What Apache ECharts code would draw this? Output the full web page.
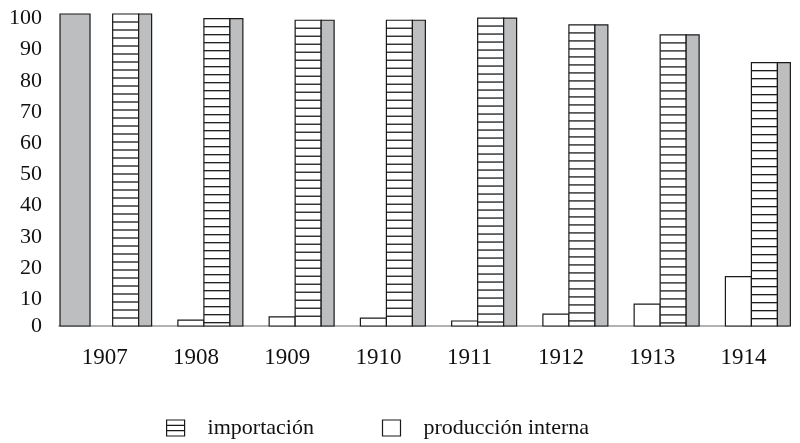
<!DOCTYPE html>
<html>
<head>
<meta charset="utf-8">
<script src="https://cdn.jsdelivr.net/npm/echarts@6/dist/echarts.min.js"></script>
<style>
  html, body { margin: 0; padding: 0; background: #fff; }
  #chart { width: 800px; height: 443px; }
</style>
</head>
<body>
<div id="chart"></div>
<script>
const YEARS = ["1907", "1908", "1909", "1910", "1911", "1912", "1913", "1914"];
const IMPORTACION = [100, 98.5, 98, 98, 98.7, 96.5, 93.3, 84.4];
const PRODUCCION = [0, 1.9, 2.9, 2.5, 1.6, 3.8, 7, 15.8];
const TOTAL_GRIS = [100, 98.5, 98, 98, 98.7, 96.5, 93.3, 84.4];
const BARRA_1907 = [100, null, null, null, null, null, null, null];
const Y_TICKS = [0, 10, 20, 30, 40, 50, 60, 70, 80, 90, 100];

const GRAY = "#bdbec0";
const INK = "#1a1a1a";
const FONT = "Liberation Serif";

const toPairs = (arr) => arr.map((v, i) => [i, v]).filter((d) => d[1] != null);

// bar placed at [from, to] fractions of the category band, measured from its center
function barRect(api, from, to) {
  const base = api.coord([api.value(0), 0]);
  const top = api.coord([api.value(0), api.value(1)]);
  const band = api.size([1, 0])[0];
  return {
    x: base[0] + band * from,
    y: top[1],
    width: band * (to - from),
    height: base[1] - top[1],
  };
}

function plainBar(from, to, fill) {
  return (params, api) => ({
    type: "rect",
    shape: barRect(api, from, to),
    style: { fill: fill, stroke: INK, lineWidth: 1.2 },
  });
}

function hatchBar(params, api) {
  const r = barRect(api, 0.088, 0.373);
  const children = [
    { type: "rect", shape: r, style: { fill: "#fff", stroke: INK, lineWidth: 1.2 } },
  ];
  for (let y = r.y + 8; y < r.y + r.height - 2; y += 8) {
    children.push({
      type: "line",
      shape: { x1: r.x, y1: y, x2: r.x + r.width, y2: y },
      style: { stroke: INK, lineWidth: 1.3 },
    });
  }
  return { type: "group", children };
}

const chart = echarts.init(document.getElementById("chart"));

chart.setOption({
  animation: false,
  grid: { left: 59, right: 11, top: 14, bottom: 117 },
  legend: {
    left: 166,
    top: 417,
    padding: 0,
    itemWidth: 18,
    itemHeight: 16,
    itemGap: 68,
    selectedMode: false,
    textStyle: { fontFamily: FONT, fontSize: 22, color: "#111", padding: [0, 0, 0, 18] },
    data: [
      {
        name: "importación",
        icon: "path://M0,0H18V16H0Z M0,5.33H18 M0,10.67H18",
        itemStyle: { color: "#fff", borderColor: INK, borderWidth: 1.2 },
      },
      {
        name: "producción interna",
        icon: "rect",
        itemStyle: { color: "#fff", borderColor: INK, borderWidth: 1.2 },
      },
    ],
  },
  xAxis: {
    type: "category",
    data: YEARS,
    axisLine: { lineStyle: { color: "#999", width: 1.5 } },
    axisTick: { show: false },
    axisLabel: { fontFamily: FONT, fontSize: 23, color: "#111", margin: 20 },
  },
  yAxis: {
    type: "value",
    min: 0,
    max: 100,
    interval: 10,
    axisLine: { show: false },
    axisTick: { show: false },
    splitLine: { show: false },
    axisLabel: {
      margin: 17,
      formatter: (v) => (!Y_TICKS.includes(v) ? "" : v === 0 ? "{z|0}" : "{t|" + v + "}"),
      rich: {
        t: { fontFamily: FONT, fontSize: 22, color: "#111", padding: [9, 0, 0, 0] },
        z: { fontFamily: FONT, fontSize: 22, color: "#111" },
      },
    },
  },
  series: [
    {
      name: "gris 1907",
      type: "custom",
      renderItem: plainBar(-0.489, -0.16, GRAY),
      encode: { x: 0, y: 1 },
      data: toPairs(BARRA_1907),
    },
    {
      name: "producción interna",
      type: "custom",
      renderItem: plainBar(-0.197, 0.088, "#fff"),
      encode: { x: 0, y: 1 },
      data: toPairs(PRODUCCION).filter((d) => d[1] > 0),
    },
    {
      name: "importación",
      type: "custom",
      renderItem: hatchBar,
      encode: { x: 0, y: 1 },
      data: toPairs(IMPORTACION),
    },
    {
      name: "total",
      type: "custom",
      renderItem: plainBar(0.373, 0.515, GRAY),
      encode: { x: 0, y: 1 },
      data: toPairs(TOTAL_GRIS),
    },
  ],
});
</script>
</body>
</html>
